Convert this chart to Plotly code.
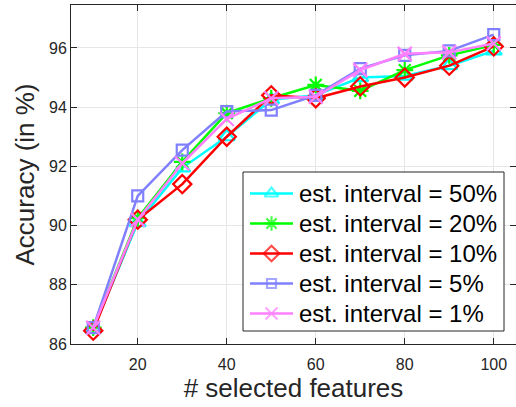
import plotly.graph_objects as go

# number of selected features
n_features = [10, 20, 30, 40, 50, 60, 70, 80, 90, 100]

# accuracy (%) per estimation interval
acc_50 = [86.5, 90.1, 91.95, 93.0, 94.25, 94.4, 95.0, 95.05, 95.4, 95.9]
acc_20 = [86.55, 90.25, 92.15, 93.8, 94.3, 94.75, 94.55, 95.25, 95.75, 96.1]
acc_10 = [86.45, 90.2, 91.4, 93.0, 94.4, 94.3, 94.7, 95.0, 95.4, 96.05]
acc_5 = [86.55, 91.0, 92.55, 93.85, 93.9, 94.4, 95.3, 95.75, 95.9, 96.45]
acc_1 = [86.55, 90.2, 92.1, 93.6, 94.3, 94.35, 95.25, 95.8, 95.85, 96.15]

series_names = ["est. interval = 50%", "est. interval = 20%", "est. interval = 10%",
                "est. interval = 5%", "est. interval = 1%"]
series_values = [acc_50, acc_20, acc_10, acc_5, acc_1]
colors = ["#00FFFF", "#00FF00", "#FF0000", "#8080FF", "#FF80FF"]
symbols = ["triangle-up-open", "asterisk-open", "diamond-open", "square-open", "x-thin-open"]
sizes = [14, 14, 14, 11, 14]

FONT = "Liberation Sans, Arial, sans-serif"
AX = "#262626"

# figure / plot-area geometry in pixels
W, H = 516, 407
PL, PR, PT, PB = 71, 516, 5, 344

fig = go.Figure()
for name, vals, col, sym, sz in zip(series_names, series_values, colors, symbols, sizes):
    fig.add_trace(go.Scatter(
        x=n_features, y=vals, name=name, mode="lines+markers", showlegend=False,
        line=dict(color=col, width=2.5),
        marker=dict(symbol=sym, size=sz, color=col, line=dict(color=col, width=2.2)),
    ))

# boxed legend drawn on a pixel-space overlay axis pair
box_l, box_r, box_t, box_b = 243, 504, 172, 331
row_y0, row_dy = 193.5, 30
sym_l, sym_r, text_x = 250, 293, 297

fig.add_trace(go.Scatter(
    x=[box_l, box_r, box_r, box_l, box_l], y=[box_t, box_t, box_b, box_b, box_t],
    xaxis="x2", yaxis="y2", mode="lines", fill="toself", fillcolor="white",
    line=dict(color=AX, width=1), showlegend=False, hoverinfo="skip",
))
for i, (name, col, sym, sz) in enumerate(zip(series_names, colors, symbols, sizes)):
    ry = row_y0 + i * row_dy
    fig.add_trace(go.Scatter(
        x=[sym_l, (sym_l + sym_r) / 2, sym_r], y=[ry, ry, ry],
        xaxis="x2", yaxis="y2", mode="lines+markers", showlegend=False, hoverinfo="skip",
        line=dict(color=col, width=2.5),
        marker=dict(symbol=sym, size=[0, round(sz * 0.85), 0], color=col,
                    line=dict(color=col, width=2.2)),
    ))
    fig.add_annotation(
        x=text_x, y=ry, xref="x2", yref="y2", text=name, showarrow=False,
        xanchor="left", yanchor="middle",
        font=dict(family=FONT, size=24, color="black"),
    )

axis_common = dict(
    showline=True, linecolor=AX, linewidth=1, mirror="ticks",
    ticks="inside", ticklen=6, tickcolor=AX, tickwidth=1,
    showgrid=True, gridcolor="#E6E6E6", gridwidth=1,
    zeroline=False, tickfont=dict(family=FONT, size=16, color=AX),
)

fig.update_layout(
    xaxis=dict(range=[5, 105], tickvals=[20, 40, 60, 80, 100], ticklabelstandoff=6,
               title=dict(text="# selected features", font=dict(family=FONT, size=26, color=AX), standoff=6),
               **axis_common),
    yaxis=dict(range=[86, 97.45], tickvals=[86, 88, 90, 92, 94, 96],
               title=dict(text="Accuracy (in %)", font=dict(family=FONT, size=26, color=AX), standoff=6),
               **axis_common),
    xaxis2=dict(overlaying="x", anchor="y2", range=[PL, PR], visible=False, fixedrange=True),
    yaxis2=dict(overlaying="y", anchor="x2", range=[PB, PT], visible=False, fixedrange=True),
    width=W, height=H,
    margin=dict(l=PL, r=W - PR, t=PT, b=H - PB),
    plot_bgcolor="white", paper_bgcolor="white",
    font=dict(family=FONT, color="black"),
    showlegend=False,
)

fig.write_html("out.html")
